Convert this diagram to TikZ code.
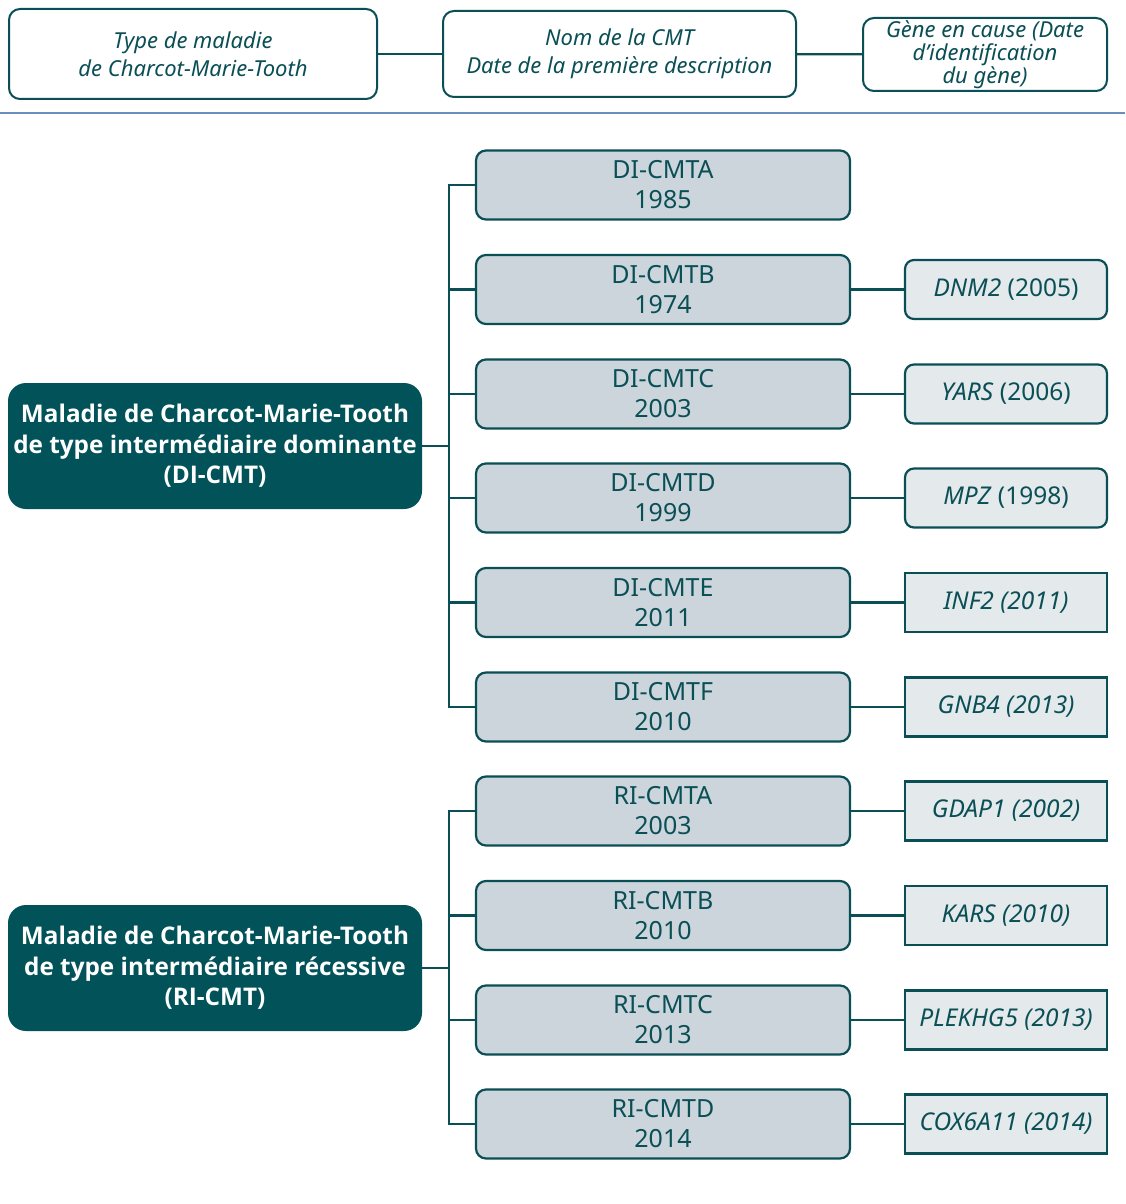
\documentclass[tikz,border=0pt]{standalone}
\usepackage{fontspec}
\setmainfont{Noto Sans}
\newfontfamily\boldfam{Open Sans}
\definecolor{dteal}{HTML}{02525A}
\definecolor{bord}{HTML}{0B4F56}
\definecolor{midfill}{HTML}{CBD5DB}
\definecolor{genefill}{HTML}{E4E9EC}
\definecolor{hline}{HTML}{6A8FBF}
\begin{document}
\begin{tikzpicture}[x=1pt,y=-1pt,
  every node/.style={inner sep=0pt, align=center},
  hdr/.style={draw=bord, line width=2pt, fill=white, rounded corners=11pt, text=bord, font=\itshape\fontsize{22}{28}\selectfont},
  dark/.style={fill=dteal, rounded corners=18pt, text=white, font=\boldfam\bfseries\fontsize{24.3}{30.5}\selectfont, minimum width=414pt, minimum height=126pt},
  mid/.style={draw=bord, line width=2.2pt, fill=midfill, rounded corners=10pt, text=bord, font=\fontsize{25}{30}\selectfont, minimum width=374pt, minimum height=69pt},
  gener/.style={draw=bord, line width=2.2pt, fill=genefill, rounded corners=9pt, text=bord, font=\fontsize{24.5}{28}\selectfont, minimum width=202pt, minimum height=59pt},
  genes/.style={gener, rounded corners=0pt},
  conn/.style={draw=bord, line width=2.2pt}
]
\useasboundingbox (0,0) rectangle (1125,1204);
% header
\node[hdr, minimum width=368pt, minimum height=90pt] (h1) at (193,54) {Type de maladie\\de Charcot-Marie-Tooth};
\node[hdr, minimum width=353pt, minimum height=86pt] (h2) at (619.5,54) {Nom de la CMT\\Date de la première description};
\node[hdr, minimum width=244pt, minimum height=73pt, font=\itshape\fontsize{22}{23}\selectfont] (h3) at (985,54.5) {Gène en cause (Date\\d’identification\\du gène)};
\draw[conn] (h1) -- (h2);
\draw[conn] (h2) -- (h3);
\coordinate (l1) at (0,113);
\coordinate (l2) at (1125,113);
\draw[hline, line width=2.5pt] (l1) -- (l2);

% dark boxes
\node[dark] (d1) at (215,446) {Maladie de Charcot-Marie-Tooth\\de type intermédiaire dominante\\(DI-CMT)};
\node[dark] (d2) at (215,968) {Maladie de Charcot-Marie-Tooth\\de type intermédiaire récessive\\(RI-CMT)};

% mid boxes
\node[mid] (a) at (663,185) {DI-CMTA\\1985};
\node[mid] (b) at (663,289.5) {DI-CMTB\\1974};
\node[mid] (c) at (663,394) {DI-CMTC\\2003};
\node[mid] (d) at (663,498) {DI-CMTD\\1999};
\node[mid] (e) at (663,602.5) {DI-CMTE\\2011};
\node[mid] (f) at (663,707) {DI-CMTF\\2010};
\node[mid] (ra) at (663,811) {RI-CMTA\\2003};
\node[mid] (rb) at (663,915.5) {RI-CMTB\\2010};
\node[mid] (rc) at (663,1020) {RI-CMTC\\2013};
\node[mid] (rd) at (663,1124) {RI-CMTD\\2014};

% gene boxes
\node[gener] (gb) at (1006,289.5) {\textit{DNM2} (2005)};
\node[gener] (gc) at (1006,394) {\textit{YARS} (2006)};
\node[gener] (gd) at (1006,498) {\textit{MPZ} (1998)};
\node[genes] (ge) at (1006,602.5) {\textit{INF2 (2011)}};
\node[genes] (gf) at (1006,707) {\textit{GNB4 (2013)}};
\node[genes] (gra) at (1006,811) {\textit{GDAP1 (2002)}};
\node[genes] (grb) at (1006,915.5) {\textit{KARS (2010)}};
\node[genes] (grc) at (1006,1020) {\textit{PLEKHG5 (2013)}};
\node[genes] (grd) at (1006,1124) {\textit{COX6A11 (2014)}};

% tree 1
\coordinate (t1) at (449,446);
\draw[conn] (d1.east) -- (t1);
\draw[conn] (a.west) -- (449,0|-a) -- (449,0|-f) -- (f.west);
\foreach \n in {b,c,d,e} \draw[conn] (449,0|-\n) -- (\n.west);
% tree 2
\coordinate (t2) at (449,968);
\draw[conn] (d2.east) -- (t2);
\draw[conn] (ra.west) -- (449,0|-ra) -- (449,0|-rd) -- (rd.west);
\foreach \n in {rb,rc} \draw[conn] (449,0|-\n) -- (\n.west);
% gene links
\foreach \m/\g in {b/gb,c/gc,d/gd,e/ge,f/gf,ra/gra,rb/grb,rc/grc,rd/grd} \draw[conn] (\m.east) -- (\g.west);
\end{tikzpicture}
\end{document}
